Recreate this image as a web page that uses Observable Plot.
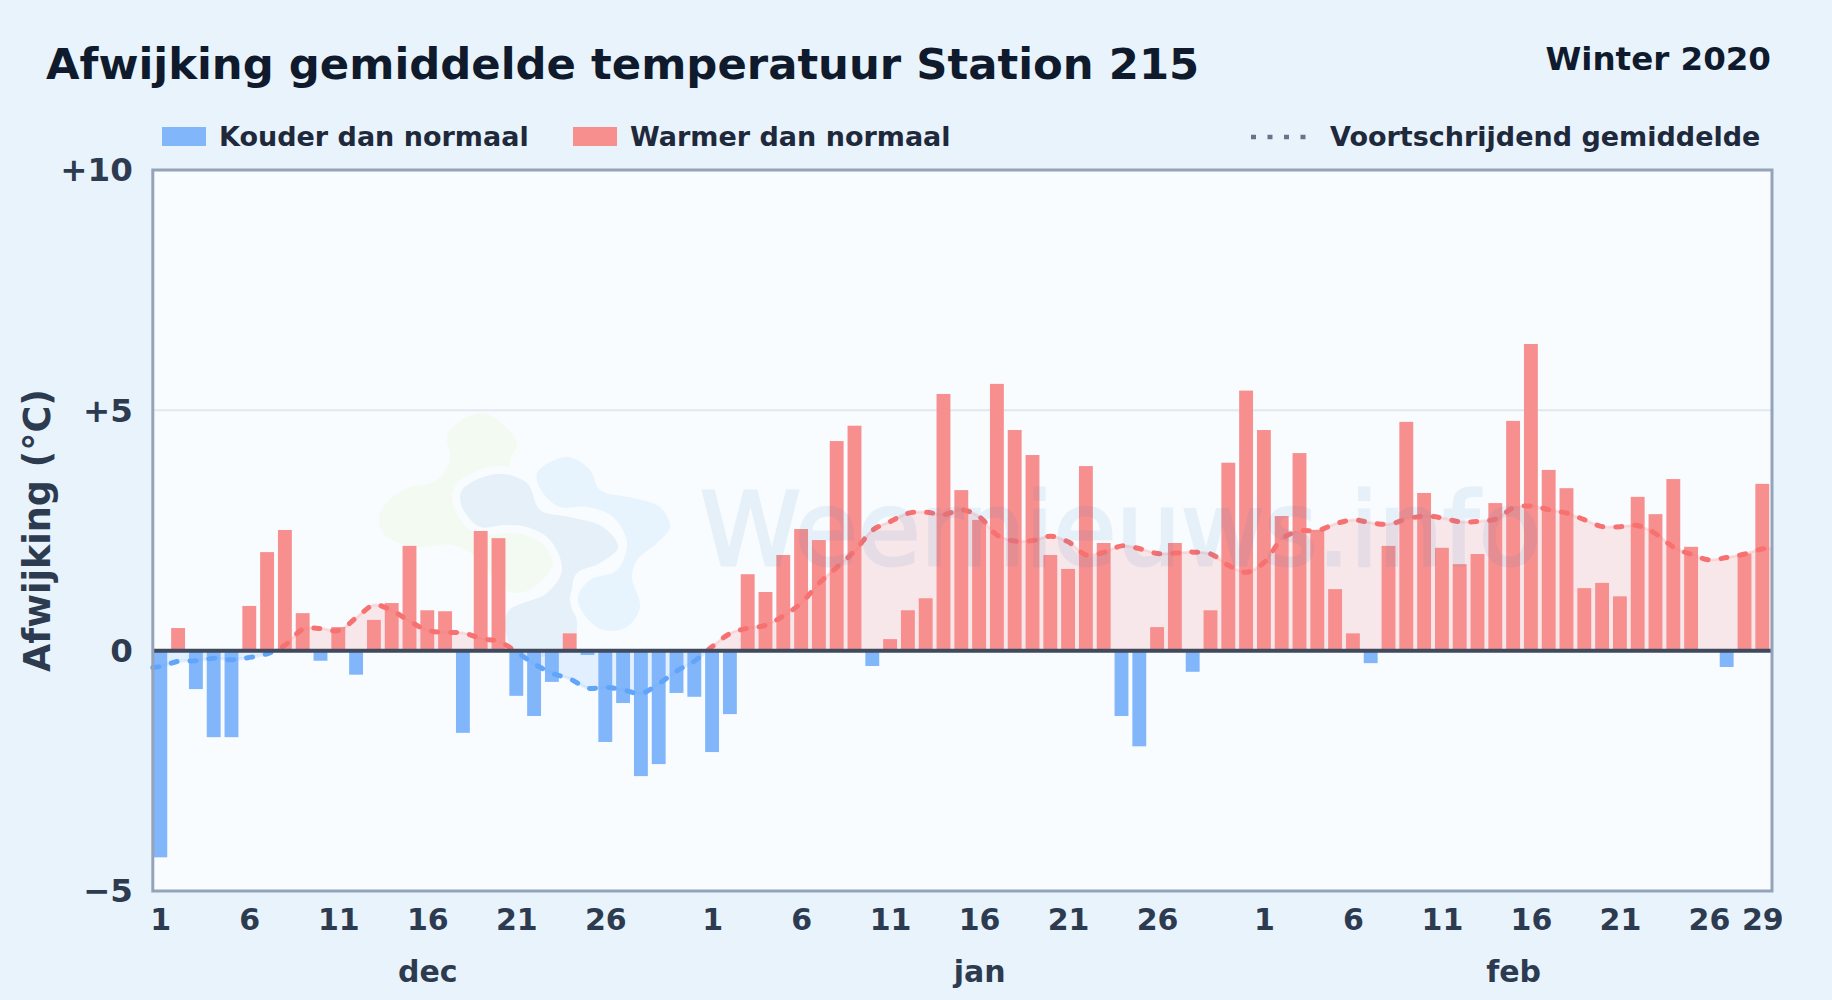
<!DOCTYPE html>
<html lang="nl">
<head>
<meta charset="utf-8">
<title>Afwijking gemiddelde temperatuur Station 215</title>
<script src="https://cdn.jsdelivr.net/npm/d3@7"></script>
<script src="https://cdn.jsdelivr.net/npm/@observablehq/plot@0.6"></script>
<style>
  html, body { margin: 0; padding: 0; background: #e9f3fc; }
  body { width: 1832px; height: 1000px; overflow: hidden; position: relative;
         font-family: "DejaVu Sans", sans-serif; font-weight: 700; }
  .abs { position: absolute; white-space: nowrap; }
  #title { left: 46px; top: 38px; font-size: 43.35px; line-height: 52px; color: #0f1b2d; }
  #season { right: 61px; top: 40px; font-size: 32.5px; line-height: 38px; color: #0f1b2d; }
  .lg { top: 120px; font-size: 27px; line-height: 34px; color: #1e293b; }
  .sw { top: 127px; width: 44px; height: 19px; }
  #dots { left: 1250px; top: 134px; }
  #chart { left: 0; top: 150px; }
</style>
</head>
<body>
<div class="abs" id="title">Afwijking gemiddelde temperatuur Station 215</div>
<div class="abs" id="season">Winter 2020</div>
<div class="abs sw" style="left:162px;background:#82b6fb"></div>
<div class="abs lg" style="left:219px">Kouder dan normaal</div>
<div class="abs sw" style="left:573px;background:#f78f8f"></div>
<div class="abs lg" style="left:630px">Warmer dan normaal</div>
<svg class="abs" id="dots" width="62" height="6"><line x1="1" x2="62" y1="3" y2="3" stroke="#64748b" stroke-width="4.5" stroke-dasharray="5 11.5"/></svg>
<div class="abs lg" style="left:1330px">Voortschrijdend gemiddelde</div>
<div class="abs" id="chart"></div>
<script>
// Afwijking per dag, 1 dec t/m 29 feb
const dec = [-4.31,0.46,-0.81,-1.81,-1.81,0.92,2.04,2.50,0.77,-0.22,0.48,-0.51,0.63,0.98,2.17,0.83,0.81,-1.72,2.48,2.33,-0.95,-1.37,-0.66,0.35,-0.10,-1.91,-1.10,-2.62,-2.37,-0.89,-0.97];
const jan = [-2.12,-1.33,1.58,1.21,1.98,2.52,2.29,4.35,4.67,-0.33,0.23,0.83,1.08,5.33,3.33,2.71,5.54,4.58,4.06,1.98,1.69,3.83,2.23,-1.37,-2.00,0.48,2.23,-0.45,0.83,3.90,5.40];
const feb = [4.58,2.79,4.10,2.50,1.27,0.35,-0.27,2.17,4.75,3.27,2.13,1.79,2.00,3.06,4.77,6.37,3.75,3.37,1.29,1.40,1.12,3.19,2.83,3.56,2.15,0,-0.35,2.01,3.46];
// Voortschrijdend gemiddelde per dag
const rollDec = [-0.33,-0.22,-0.21,-0.16,-0.19,-0.14,-0.06,0.12,0.45,0.46,0.42,0.69,0.95,0.83,0.61,0.42,0.38,0.37,0.25,0.19,-0.03,-0.28,-0.47,-0.59,-0.78,-0.76,-0.82,-0.89,-0.68,-0.42,-0.21];
const rollJan = [0.09,0.36,0.47,0.53,0.73,1.00,1.41,1.74,2.08,2.51,2.69,2.86,2.88,2.83,2.93,2.78,2.40,2.28,2.29,2.38,2.26,1.99,2.05,2.18,2.12,2.02,2.03,2.05,2.01,1.77,1.63];
const rollFeb = [1.84,2.33,2.49,2.50,2.64,2.72,2.66,2.63,2.74,2.80,2.76,2.68,2.69,2.74,2.97,3.01,2.93,2.86,2.72,2.58,2.58,2.60,2.43,2.15,2.00,1.89,1.94,2.01,2.12];
const rollLeft = -0.35, rollRight = 2.12;

const months = ["dec", "jan", "feb"];
const monthLengths = [31, 31, 29];
const monthMiddleDay = [16, 16, 15];
const dayTicks = [[1,6,11,16,21,26],[1,6,11,16,21,26],[1,6,11,16,21,26,29]];
const yTicks = [-5, 0, 5, 10];

const values = [...dec, ...jan, ...feb];
const roll = [...rollDec, ...rollJan, ...rollFeb];
const xMin = -0.449, xMax = 90.517, barHalf = 0.39;

const bars = values.map((v, i) => ({ i, v })).filter(d => d.v !== 0);
const line = [{ i: xMin, v: rollLeft }, ...roll.map((v, i) => ({ i, v })), { i: xMax, v: rollRight }];

let offset = 0;
const xTickIdx = [], xTickLabel = new Map(), monthIdx = [], monthLabel = new Map();
months.forEach((m, k) => {
  dayTicks[k].forEach(d => { const t = offset + d - 1; xTickIdx.push(t); xTickLabel.set(t, String(d)); });
  const mid = offset + monthMiddleDay[k] - 1;
  monthIdx.push(mid); monthLabel.set(mid, m);
  offset += monthLengths[k];
});

const INK = "#2d3b50";
const RED = "#f78f8f", BLUE = "#82b6fb";

// tweekleurige verloop-definities: boven nul rood, onder nul blauw
function gradients(index, { y }) {
  const defs = d3.create("svg:defs");
  const make = (id, top, bottom, op) => {
    const g = defs.append("linearGradient").attr("id", id).attr("gradientUnits", "userSpaceOnUse")
      .attr("x1", 0).attr("x2", 0).attr("y1", y(10)).attr("y2", y(-5));
    const z = (y(0) - y(10)) / (y(-5) - y(10));
    [[0, top], [z, top], [z, bottom], [1, bottom]].forEach(([o, c]) =>
      g.append("stop").attr("offset", o).attr("stop-color", c).attr("stop-opacity", op));
  };
  make("rollStroke", "#f87171", "#60a5fa", 1);
  make("rollHalo", "#f87171", "#60a5fa", 0.16);
  make("rollFill", "#f87171", "#60a5fa", 0.15);
  return defs.node();
}

// Logo-watermerk achter de staven (pagina-coordinaten, svg begint op y=150)
const blobGreen = [[448,433],[483,413],[517,443],[510,462],[525,500],[553,563],[527,591],[510,592],[495,580],[480,560],[453,545],[413,547],[383,533],[380,513],[403,490],[437,480],[450,460]];
const blobSlate = [[462,490],[497,474],[527,483],[540,510],[570,517],[603,527],[618,547],[600,563],[577,573],[572,590],[577,627],[570,650],[515,652],[507,613],[547,593],[562,570],[550,540],[527,527],[503,525],[480,527],[462,507]];
const blobBlue = [[537,473],[567,457],[590,470],[600,490],[633,498],[660,507],[670,527],[657,543],[637,560],[632,577],[640,607],[627,627],[603,630],[583,613],[578,597],[590,580],[617,570],[627,543],[613,517],[587,507],[560,507],[543,493]];
function logo() {
  const g = d3.create("svg:g").attr("transform", "translate(0,-150)");
  const path = d3.line().curve(d3.curveCatmullRomClosed);
  const shape = (pts, fill) => g.append("path").attr("d", path(pts)).attr("fill", fill)
      .attr("stroke", "#f8fcff").attr("stroke-width", 16).attr("paint-order", "stroke").attr("stroke-linejoin", "round");
  shape(blobGreen, "#f3faf1");
  shape(blobSlate, "#e6f0f9");
  shape(blobBlue, "#e7f4fe");
  return g.node();
}

function watermark() {
  return d3.create("svg:text").attr("x", 700).attr("y", 415).attr("text-anchor", "start")
    .attr("font-family", "DejaVu Sans").attr("font-weight", 400).attr("font-size", 102)
    .attr("fill", "#2f7cc0").attr("stroke", "#2f7cc0").attr("stroke-width", 3).attr("opacity", 0.09)
    .text("Weernieuws.info").node();
}

const plot = Plot.plot({
  width: 1832, height: 850,
  marginLeft: 152.3, marginRight: 60.5, marginTop: 19.5, marginBottom: 109.5,
  style: { background: "transparent", fontFamily: "DejaVu Sans", fontWeight: 700, overflow: "visible" },
  x: { type: "linear", domain: [xMin, xMax] },
  y: { domain: [-5, 10] },
  marks: [
    Plot.frame({ fill: "#f8fcff", stroke: "none" }),
    logo,
    gradients,
    Plot.ruleY([5], { stroke: "#e2e8f0", strokeWidth: 2 }),
    Plot.areaY(line, { x: "i", y1: 0, y2: "v", fill: "url(#rollFill)", curve: "catmull-rom" }),
    Plot.rectY(bars, {
      x1: d => d.i - barHalf, x2: d => d.i + barHalf, y1: 0, y2: "v",
      fill: d => d.v < 0 ? BLUE : RED, clip: true
    }),
    Plot.lineY(line, { x: "i", y: "v", stroke: "url(#rollHalo)", strokeWidth: 3, curve: "catmull-rom" }),
    Plot.lineY(line, { x: "i", y: "v", stroke: "url(#rollStroke)", strokeWidth: 5, strokeDasharray: "6 13", strokeLinecap: "round", curve: "catmull-rom" }),
    Plot.ruleY([0], { stroke: "#3f4a5f", strokeWidth: 4 }),
    Plot.frame({ stroke: "#94a3b8", strokeWidth: 3, fill: "none" }),
    Plot.axisY({ ticks: yTicks, tickSize: 0, tickPadding: 20, fontSize: 32.5, color: INK, label: null, dy: 1,
      tickFormat: v => v > 0 ? "+" + v : v < 0 ? "\u2212" + Math.abs(v) : "0" }),
    Plot.axisX({ ticks: xTickIdx, tickSize: 0, tickPadding: 18, fontSize: 30, color: INK, label: null,
      tickFormat: t => xTickLabel.get(t) }),
    Plot.axisX({ ticks: monthIdx, tickSize: 0, tickPadding: 70, fontSize: 30, color: INK, label: null,
      tickFormat: t => monthLabel.get(t) }),
    Plot.text(["Afwijking (\u00b0C)"], { text: d => d, frameAnchor: "left", textAnchor: "middle", rotate: -90, dx: -114, fontSize: 36.5, fontWeight: 700, fill: INK }),
    watermark
  ]
});
document.getElementById("chart").appendChild(plot);
</script>
</body>
</html>
